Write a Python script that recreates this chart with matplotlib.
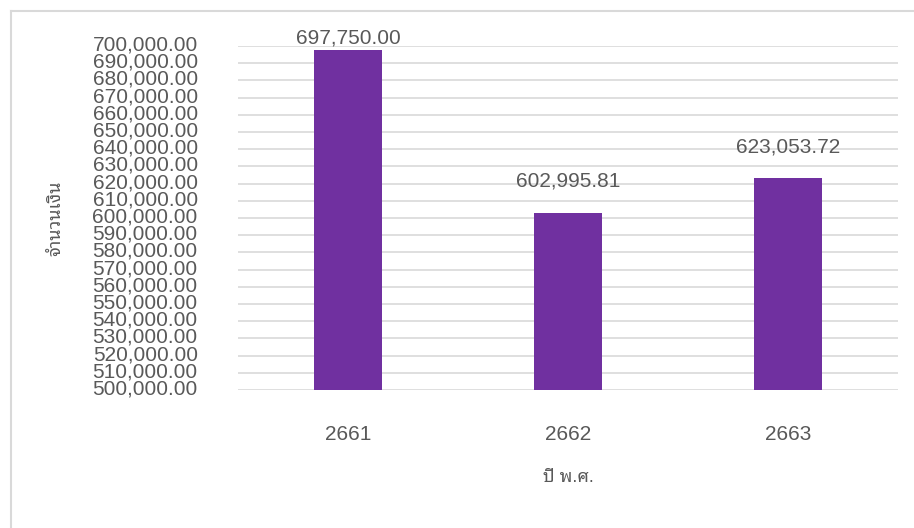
import matplotlib
matplotlib.use("Agg")
import matplotlib.pyplot as plt
from matplotlib.lines import Line2D
from matplotlib.ticker import FuncFormatter
from matplotlib.transforms import ScaledTranslation

years = ["2661", "2662", "2663"]
amounts = [697750.00, 602995.81, 623053.72]
y_min, y_max, y_step = 500000, 700000, 10000

# Liberation Sans for digits, Thai glyphs fall back to a looped Thai face
plt.rcParams['font.family'] = ['Liberation Sans', 'Noto Sans Thai Looped', 'DejaVu Sans']

GRAY = '#595959'
PURPLE = '#7030A0'

fig = plt.figure(figsize=(9.14, 5.28), dpi=100)
ax = fig.add_axes([238 / 914, 138 / 528, 660 / 914, 344 / 528])

x = list(range(len(years)))
ax.bar(x, amounts, width=0.31, color=PURPLE, zorder=3)

ax.set_xlim(-0.5, len(years) - 0.5)
ax.set_ylim(y_min, y_max)
ax.set_yticks(range(y_min, y_max + 1, y_step))
ax.yaxis.set_major_formatter(FuncFormatter(lambda v, p: f"{v:,.2f}"))
ax.set_xticks(x)
ax.set_xticklabels(years)
ax.tick_params(axis='both', length=0, labelsize=15, colors=GRAY)
ax.tick_params(axis='y', pad=29)
ax.tick_params(axis='x', pad=25)
ax.grid(axis='y', color='#d9d9d9', linewidth=1.2, zorder=0)
for s in ax.spines.values():
    s.set_visible(False)

# Excel sits the y labels a little above their gridlines
shift = ScaledTranslation(0, 3 / 100, fig.dpi_scale_trans)
for lbl in ax.get_yticklabels():
    lbl.set_transform(lbl.get_transform() + shift)

# value labels, kept inside the plot top like Excel does
rng = y_max - y_min
for xi, v in zip(x, amounts):
    ty = min(v + rng * 0.076, y_max + rng * 0.006)
    ax.text(xi, ty, f"{v:,.2f}", ha='center', va='baseline',
            fontsize=15, color=GRAY, clip_on=False)

ax.set_ylabel("จำนวนเงิน", fontsize=13, color=GRAY)
ax.yaxis.set_label_coords(-174 / 660, 0.5)
ax.set_xlabel("ปี พ.ศ.", fontsize=13, color=GRAY)
ax.xaxis.set_label_coords(0.5, -79 / 344)

# chart frame (top and left edges visible in the original)
fig.add_artist(Line2D([10.5 / 914, 10.5 / 914], [0, 1 - 10.5 / 528],
                      color='#d9d9d9', lw=1.5))
fig.add_artist(Line2D([10.5 / 914, 913 / 914], [1 - 10.5 / 528, 1 - 10.5 / 528],
                      color='#d9d9d9', lw=1.5))

fig.savefig("out.png", dpi=100)
